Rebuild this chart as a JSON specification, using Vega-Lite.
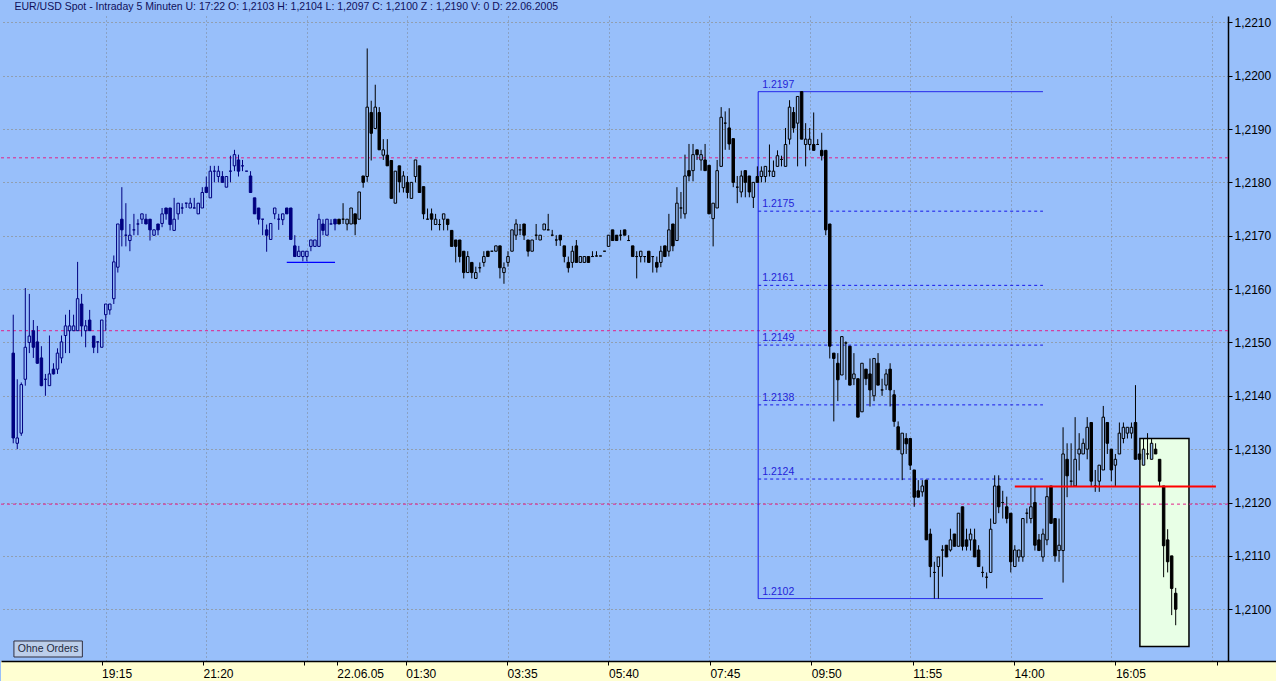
{
"$schema": "https://vega.github.io/schema/vega-lite/v6.json",
"background": "#98BFFA",
"padding": {"top": 2, "left": 0, "right": 0, "bottom": 0},
"spacing": 0,
"bounds": "flush",
"title": {"text": "EUR/USD Spot - Intraday 5 Minuten  U: 17:22  O: 1,2103  H: 1,2104  L: 1,2097  C: 1,2100  Z : 1,2190  V: 0  D: 22.06.2005", "anchor": "start", "dx": 14, "fontSize": 10.5, "font": "Liberation Sans", "fontWeight": "normal", "color": "#10105A", "offset": 3.3},
"config": {"view": {"stroke": null}, "font": "Liberation Sans", "axis": {"labelFont": "Liberation Sans"}},
"resolve": {"scale": {"x": "independent"}},
"datasets": {
"candles": [
{"t":"2005-06-21T17:20","o":1.2148,"h":1.21552,"l":1.21311,"c":1.21321},
{"t":"2005-06-21T17:25","o":1.21311,"h":1.21431,"l":1.2130,"c":1.21321},
{"t":"2005-06-21T17:30","o":1.2133,"h":1.21425,"l":1.21325,"c":1.21421},
{"t":"2005-06-21T17:35","o":1.21431,"h":1.21602,"l":1.21419,"c":1.21491},
{"t":"2005-06-21T17:40","o":1.2150,"h":1.21591,"l":1.2148,"c":1.21512},
{"t":"2005-06-21T17:45","o":1.21522,"h":1.21542,"l":1.21471,"c":1.21491},
{"t":"2005-06-21T17:50","o":1.21501,"h":1.21531,"l":1.2146,"c":1.21461},
{"t":"2005-06-21T17:55","o":1.21471,"h":1.21493,"l":1.21418,"c":1.21419},
{"t":"2005-06-21T18:00","o":1.21431,"h":1.21441,"l":1.2140,"c":1.21431},
{"t":"2005-06-21T18:05","o":1.21419,"h":1.21513,"l":1.21419,"c":1.21441},
{"t":"2005-06-21T18:10","o":1.2145,"h":1.21461,"l":1.2144,"c":1.21441},
{"t":"2005-06-21T18:15","o":1.2145,"h":1.21489,"l":1.21441,"c":1.2148},
{"t":"2005-06-21T18:20","o":1.21471,"h":1.21513,"l":1.21461,"c":1.21501},
{"t":"2005-06-21T18:25","o":1.21513,"h":1.21552,"l":1.2148,"c":1.21531},
{"t":"2005-06-21T18:30","o":1.21522,"h":1.21561,"l":1.2148,"c":1.21531},
{"t":"2005-06-21T18:35","o":1.21522,"h":1.21552,"l":1.21522,"c":1.21531},
{"t":"2005-06-21T18:40","o":1.21522,"h":1.21651,"l":1.21522,"c":1.21582},
{"t":"2005-06-21T18:45","o":1.21572,"h":1.21591,"l":1.21511,"c":1.21531},
{"t":"2005-06-21T18:50","o":1.21522,"h":1.21542,"l":1.21491,"c":1.21531},
{"t":"2005-06-21T18:55","o":1.21542,"h":1.21561,"l":1.21522,"c":1.21522},
{"t":"2005-06-21T19:00","o":1.21512,"h":1.21512,"l":1.2148,"c":1.21491},
{"t":"2005-06-21T19:05","o":1.21501,"h":1.21502,"l":1.2148,"c":1.21501},
{"t":"2005-06-21T19:10","o":1.21491,"h":1.21542,"l":1.21491,"c":1.21542},
{"t":"2005-06-21T19:15","o":1.21552,"h":1.21572,"l":1.21522,"c":1.21572},
{"t":"2005-06-21T19:20","o":1.21561,"h":1.21572,"l":1.21552,"c":1.21572},
{"t":"2005-06-21T19:25","o":1.21582,"h":1.21663,"l":1.21572,"c":1.21651},
{"t":"2005-06-21T19:30","o":1.21641,"h":1.21722,"l":1.21631,"c":1.21722},
{"t":"2005-06-21T19:35","o":1.21731,"h":1.21791,"l":1.2168,"c":1.21711},
{"t":"2005-06-21T19:40","o":1.21701,"h":1.21761,"l":1.2168,"c":1.21701},
{"t":"2005-06-21T19:45","o":1.21691,"h":1.21722,"l":1.21671,"c":1.21701},
{"t":"2005-06-21T19:50","o":1.21711,"h":1.21741,"l":1.21701,"c":1.21711},
{"t":"2005-06-21T19:55","o":1.21722,"h":1.21731,"l":1.21701,"c":1.21722},
{"t":"2005-06-21T20:00","o":1.21731,"h":1.21741,"l":1.21722,"c":1.21741},
{"t":"2005-06-21T20:05","o":1.21731,"h":1.21741,"l":1.21722,"c":1.21722},
{"t":"2005-06-21T20:10","o":1.21731,"h":1.21731,"l":1.21691,"c":1.21711},
{"t":"2005-06-21T20:15","o":1.21701,"h":1.21712,"l":1.2170,"c":1.21711},
{"t":"2005-06-21T20:20","o":1.21722,"h":1.21722,"l":1.21701,"c":1.21711},
{"t":"2005-06-21T20:25","o":1.21723,"h":1.21752,"l":1.21716,"c":1.21741},
{"t":"2005-06-21T20:30","o":1.21752,"h":1.21752,"l":1.2173,"c":1.21741},
{"t":"2005-06-21T20:35","o":1.21752,"h":1.21752,"l":1.2171,"c":1.21721},
{"t":"2005-06-21T20:40","o":1.2171,"h":1.21771,"l":1.2171,"c":1.21731},
{"t":"2005-06-21T20:45","o":1.21741,"h":1.21761,"l":1.2173,"c":1.21761},
{"t":"2005-06-21T20:50","o":1.21752,"h":1.21761,"l":1.21741,"c":1.21752},
{"t":"2005-06-21T20:55","o":1.21761,"h":1.21761,"l":1.21752,"c":1.21761},
{"t":"2005-06-21T21:00","o":1.21752,"h":1.21771,"l":1.21752,"c":1.21761},
{"t":"2005-06-21T21:05","o":1.21752,"h":1.21771,"l":1.21752,"c":1.21752},
{"t":"2005-06-21T21:10","o":1.21741,"h":1.21761,"l":1.21741,"c":1.21761},
{"t":"2005-06-21T21:15","o":1.21752,"h":1.21791,"l":1.21752,"c":1.21781},
{"t":"2005-06-21T21:20","o":1.21791,"h":1.21811,"l":1.21781,"c":1.21781},
{"t":"2005-06-21T21:25","o":1.21771,"h":1.21831,"l":1.21771,"c":1.21821},
{"t":"2005-06-21T21:30","o":1.21821,"h":1.21831,"l":1.2180,"c":1.21821},
{"t":"2005-06-21T21:35","o":1.21811,"h":1.21831,"l":1.2180,"c":1.21821},
{"t":"2005-06-21T21:40","o":1.21811,"h":1.21821,"l":1.2180,"c":1.2180},
{"t":"2005-06-21T21:45","o":1.21791,"h":1.21811,"l":1.21791,"c":1.21811},
{"t":"2005-06-21T21:50","o":1.21821,"h":1.2185,"l":1.2180,"c":1.21821},
{"t":"2005-06-21T21:55","o":1.21831,"h":1.21861,"l":1.21821,"c":1.21852},
{"t":"2005-06-21T22:00","o":1.21842,"h":1.21852,"l":1.21811,"c":1.21821},
{"t":"2005-06-21T22:05","o":1.21831,"h":1.21842,"l":1.21821,"c":1.21831},
{"t":"2005-06-21T22:10","o":1.21821,"h":1.21821,"l":1.21821,"c":1.21821},
{"t":"2005-06-21T22:15","o":1.21812,"h":1.21821,"l":1.21781,"c":1.21781},
{"t":"2005-06-21T22:20","o":1.21771,"h":1.21771,"l":1.21741,"c":1.21741},
{"t":"2005-06-21T22:25","o":1.21752,"h":1.21752,"l":1.21721,"c":1.21731},
{"t":"2005-06-21T22:30","o":1.21731,"h":1.21731,"l":1.21701,"c":1.21731},
{"t":"2005-06-21T22:35","o":1.21711,"h":1.21721,"l":1.2167,"c":1.21701},
{"t":"2005-06-21T22:40","o":1.21693,"h":1.21723,"l":1.21693,"c":1.21723},
{"t":"2005-06-21T22:45","o":1.21741,"h":1.21752,"l":1.21731,"c":1.21752},
{"t":"2005-06-21T22:50","o":1.21731,"h":1.21741,"l":1.21711,"c":1.21731},
{"t":"2005-06-21T22:55","o":1.2173,"h":1.21741,"l":1.2172,"c":1.21741},
{"t":"2005-06-21T23:00","o":1.21752,"h":1.21752,"l":1.21741,"c":1.21741},
{"t":"2005-06-21T23:05","o":1.21752,"h":1.21752,"l":1.21693,"c":1.21693},
{"t":"2005-06-21T23:10","o":1.21681,"h":1.21701,"l":1.21661,"c":1.21661},
{"t":"2005-06-21T23:15","o":1.21661,"h":1.21681,"l":1.21661,"c":1.21671},
{"t":"2005-06-21T23:20","o":1.21661,"h":1.21671,"l":1.21652,"c":1.21671},
{"t":"2005-06-21T23:25","o":1.21661,"h":1.21671,"l":1.21652,"c":1.21671},
{"t":"2005-06-21T23:30","o":1.2168,"h":1.21692,"l":1.21671,"c":1.21692},
{"t":"2005-06-21T23:35","o":1.2168,"h":1.21692,"l":1.2168,"c":1.21692},
{"t":"2005-06-21T23:40","o":1.2168,"h":1.21741,"l":1.2168,"c":1.21731},
{"t":"2005-06-21T23:45","o":1.21722,"h":1.21731,"l":1.21701,"c":1.2171},
{"t":"2005-06-21T23:50","o":1.21701,"h":1.21731,"l":1.21701,"c":1.21731},
{"t":"2005-06-21T23:55","o":1.21722,"h":1.21731,"l":1.21722,"c":1.21722},
{"t":"2005-06-22T00:00","o":1.21731,"h":1.21731,"l":1.2171,"c":1.21722},
{"t":"2005-06-22T00:05","o":1.21731,"h":1.21731,"l":1.21722,"c":1.21722},
{"t":"2005-06-22T00:10","o":1.21731,"h":1.21761,"l":1.21722,"c":1.21731},
{"t":"2005-06-22T00:15","o":1.21722,"h":1.21731,"l":1.2171,"c":1.21731},
{"t":"2005-06-22T00:20","o":1.21722,"h":1.21752,"l":1.21722,"c":1.21752},
{"t":"2005-06-22T00:25","o":1.21741,"h":1.21741,"l":1.21701,"c":1.21722},
{"t":"2005-06-22T00:30","o":1.21731,"h":1.21782,"l":1.21731,"c":1.21782},
{"t":"2005-06-22T00:35","o":1.21812,"h":1.21812,"l":1.2179,"c":1.2180},
{"t":"2005-06-22T00:40","o":1.21811,"h":1.22051,"l":1.21801,"c":1.21941},
{"t":"2005-06-22T00:45","o":1.21931,"h":1.21953,"l":1.21841,"c":1.21892},
{"t":"2005-06-22T00:50","o":1.21901,"h":1.21983,"l":1.21901,"c":1.21941},
{"t":"2005-06-22T00:55","o":1.21931,"h":1.21941,"l":1.21861,"c":1.21861},
{"t":"2005-06-22T01:00","o":1.21851,"h":1.21881,"l":1.21842,"c":1.21861},
{"t":"2005-06-22T01:05","o":1.21851,"h":1.21881,"l":1.21831,"c":1.21831},
{"t":"2005-06-22T01:10","o":1.21841,"h":1.21841,"l":1.2177,"c":1.2177},
{"t":"2005-06-22T01:15","o":1.21761,"h":1.21821,"l":1.21761,"c":1.21821},
{"t":"2005-06-22T01:20","o":1.21831,"h":1.21831,"l":1.21781,"c":1.21801},
{"t":"2005-06-22T01:25","o":1.2179,"h":1.21821,"l":1.21781,"c":1.21812},
{"t":"2005-06-22T01:30","o":1.2180,"h":1.21812,"l":1.2177,"c":1.21781},
{"t":"2005-06-22T01:35","o":1.2177,"h":1.2180,"l":1.2177,"c":1.2180},
{"t":"2005-06-22T01:40","o":1.21811,"h":1.21842,"l":1.2180,"c":1.21842},
{"t":"2005-06-22T01:45","o":1.21831,"h":1.21831,"l":1.21781,"c":1.21781},
{"t":"2005-06-22T01:50","o":1.21792,"h":1.21792,"l":1.21731,"c":1.21741},
{"t":"2005-06-22T01:55","o":1.21731,"h":1.21751,"l":1.21731,"c":1.21731},
{"t":"2005-06-22T02:00","o":1.21741,"h":1.21751,"l":1.2171,"c":1.21731},
{"t":"2005-06-22T02:05","o":1.21721,"h":1.21741,"l":1.21721,"c":1.21731},
{"t":"2005-06-22T02:10","o":1.21721,"h":1.21731,"l":1.2171,"c":1.21721},
{"t":"2005-06-22T02:15","o":1.21731,"h":1.21741,"l":1.2171,"c":1.21741},
{"t":"2005-06-22T02:20","o":1.21731,"h":1.21731,"l":1.2171,"c":1.21721},
{"t":"2005-06-22T02:25","o":1.2171,"h":1.2171,"l":1.2168,"c":1.2168},
{"t":"2005-06-22T02:30","o":1.21692,"h":1.21692,"l":1.2165,"c":1.2168},
{"t":"2005-06-22T02:35","o":1.21692,"h":1.21692,"l":1.2165,"c":1.21661},
{"t":"2005-06-22T02:40","o":1.21671,"h":1.21671,"l":1.2162,"c":1.21631},
{"t":"2005-06-22T02:45","o":1.21631,"h":1.21671,"l":1.21631,"c":1.21661},
{"t":"2005-06-22T02:50","o":1.2165,"h":1.2165,"l":1.2162,"c":1.21631},
{"t":"2005-06-22T02:55","o":1.2162,"h":1.21642,"l":1.2162,"c":1.21631},
{"t":"2005-06-22T03:00","o":1.2164,"h":1.2165,"l":1.21631,"c":1.2164},
{"t":"2005-06-22T03:05","o":1.2165,"h":1.21671,"l":1.21642,"c":1.21661},
{"t":"2005-06-22T03:10","o":1.21671,"h":1.21671,"l":1.21661,"c":1.21661},
{"t":"2005-06-22T03:15","o":1.21671,"h":1.21671,"l":1.21671,"c":1.21671},
{"t":"2005-06-22T03:20","o":1.21671,"h":1.21681,"l":1.21671,"c":1.21681},
{"t":"2005-06-22T03:25","o":1.21681,"h":1.21681,"l":1.2162,"c":1.2164},
{"t":"2005-06-22T03:30","o":1.21631,"h":1.2165,"l":1.2161,"c":1.2164},
{"t":"2005-06-22T03:35","o":1.2165,"h":1.21671,"l":1.21642,"c":1.21661},
{"t":"2005-06-22T03:40","o":1.21671,"h":1.21711,"l":1.21671,"c":1.21711},
{"t":"2005-06-22T03:45","o":1.21701,"h":1.21731,"l":1.21692,"c":1.21722},
{"t":"2005-06-22T03:50","o":1.21711,"h":1.21722,"l":1.21701,"c":1.21711},
{"t":"2005-06-22T03:55","o":1.21722,"h":1.21722,"l":1.21692,"c":1.21701},
{"t":"2005-06-22T04:00","o":1.21692,"h":1.21692,"l":1.21661,"c":1.21671},
{"t":"2005-06-22T04:05","o":1.21671,"h":1.21692,"l":1.21671,"c":1.21692},
{"t":"2005-06-22T04:10","o":1.21701,"h":1.21722,"l":1.21692,"c":1.21701},
{"t":"2005-06-22T04:15","o":1.21692,"h":1.21701,"l":1.21692,"c":1.21701},
{"t":"2005-06-22T04:20","o":1.21711,"h":1.21722,"l":1.21711,"c":1.21722},
{"t":"2005-06-22T04:25","o":1.21711,"h":1.21741,"l":1.21711,"c":1.21711},
{"t":"2005-06-22T04:30","o":1.21701,"h":1.21711,"l":1.21701,"c":1.21701},
{"t":"2005-06-22T04:35","o":1.21692,"h":1.21701,"l":1.21681,"c":1.21692},
{"t":"2005-06-22T04:40","o":1.21701,"h":1.21701,"l":1.21681,"c":1.21692},
{"t":"2005-06-22T04:45","o":1.21681,"h":1.21681,"l":1.2165,"c":1.21661},
{"t":"2005-06-22T04:50","o":1.2165,"h":1.21661,"l":1.21631,"c":1.2164},
{"t":"2005-06-22T04:55","o":1.2165,"h":1.21681,"l":1.2164,"c":1.21671},
{"t":"2005-06-22T05:00","o":1.21681,"h":1.21692,"l":1.2165,"c":1.2165},
{"t":"2005-06-22T05:05","o":1.2165,"h":1.21661,"l":1.2165,"c":1.21661},
{"t":"2005-06-22T05:10","o":1.2165,"h":1.21661,"l":1.2165,"c":1.21661},
{"t":"2005-06-22T05:15","o":1.21661,"h":1.21661,"l":1.2165,"c":1.2165},
{"t":"2005-06-22T05:20","o":1.21661,"h":1.21671,"l":1.21661,"c":1.21661},
{"t":"2005-06-22T05:25","o":1.21662,"h":1.21671,"l":1.21661,"c":1.21662},
{"t":"2005-06-22T05:30","o":1.21662,"h":1.21662,"l":1.21662,"c":1.21662},
{"t":"2005-06-22T05:35","o":1.21671,"h":1.21671,"l":1.21671,"c":1.21671},
{"t":"2005-06-22T05:40","o":1.2168,"h":1.21701,"l":1.2168,"c":1.21701},
{"t":"2005-06-22T05:45","o":1.21711,"h":1.21711,"l":1.21691,"c":1.21691},
{"t":"2005-06-22T05:50","o":1.21701,"h":1.21701,"l":1.21691,"c":1.21691},
{"t":"2005-06-22T05:55","o":1.21701,"h":1.21711,"l":1.21691,"c":1.21701},
{"t":"2005-06-22T06:00","o":1.21711,"h":1.21711,"l":1.21701,"c":1.21701},
{"t":"2005-06-22T06:05","o":1.21691,"h":1.21701,"l":1.21691,"c":1.21691},
{"t":"2005-06-22T06:10","o":1.21681,"h":1.21681,"l":1.21661,"c":1.21661},
{"t":"2005-06-22T06:15","o":1.21661,"h":1.21671,"l":1.2162,"c":1.21661},
{"t":"2005-06-22T06:20","o":1.21661,"h":1.21671,"l":1.2165,"c":1.21671},
{"t":"2005-06-22T06:25","o":1.21661,"h":1.21661,"l":1.2165,"c":1.21661},
{"t":"2005-06-22T06:30","o":1.21671,"h":1.21671,"l":1.2165,"c":1.2165},
{"t":"2005-06-22T06:35","o":1.21661,"h":1.21661,"l":1.21631,"c":1.21661},
{"t":"2005-06-22T06:40","o":1.2165,"h":1.21661,"l":1.21631,"c":1.21641},
{"t":"2005-06-22T06:45","o":1.2165,"h":1.21681,"l":1.21641,"c":1.21671},
{"t":"2005-06-22T06:50","o":1.21681,"h":1.21681,"l":1.21661,"c":1.21661},
{"t":"2005-06-22T06:55","o":1.21671,"h":1.21741,"l":1.21661,"c":1.21711},
{"t":"2005-06-22T07:00","o":1.21722,"h":1.21722,"l":1.21671,"c":1.21681},
{"t":"2005-06-22T07:05","o":1.21691,"h":1.21791,"l":1.21691,"c":1.21761},
{"t":"2005-06-22T07:10","o":1.21752,"h":1.21782,"l":1.21732,"c":1.21752},
{"t":"2005-06-22T07:15","o":1.21741,"h":1.21852,"l":1.21732,"c":1.21812},
{"t":"2005-06-22T07:20","o":1.21822,"h":1.21872,"l":1.21802,"c":1.21812},
{"t":"2005-06-22T07:25","o":1.21822,"h":1.21872,"l":1.21802,"c":1.21852},
{"t":"2005-06-22T07:30","o":1.21861,"h":1.21861,"l":1.21842,"c":1.21852},
{"t":"2005-06-22T07:35","o":1.21842,"h":1.21861,"l":1.21822,"c":1.21852},
{"t":"2005-06-22T07:40","o":1.21842,"h":1.21872,"l":1.21822,"c":1.21822},
{"t":"2005-06-22T07:45","o":1.21832,"h":1.21832,"l":1.21741,"c":1.21741},
{"t":"2005-06-22T07:50","o":1.21732,"h":1.21761,"l":1.2168,"c":1.21761},
{"t":"2005-06-22T07:55","o":1.21752,"h":1.21842,"l":1.21752,"c":1.21822},
{"t":"2005-06-22T08:00","o":1.2183,"h":1.21941,"l":1.2183,"c":1.21922},
{"t":"2005-06-22T08:05","o":1.21911,"h":1.21933,"l":1.21861,"c":1.21911},
{"t":"2005-06-22T08:10","o":1.21902,"h":1.21939,"l":1.21861,"c":1.21872},
{"t":"2005-06-22T08:15","o":1.21882,"h":1.21882,"l":1.21791,"c":1.2180},
{"t":"2005-06-22T08:20","o":1.21791,"h":1.21812,"l":1.21761,"c":1.21791},
{"t":"2005-06-22T08:25","o":1.21782,"h":1.21822,"l":1.21772,"c":1.21812},
{"t":"2005-06-22T08:30","o":1.21822,"h":1.21822,"l":1.21772,"c":1.2180},
{"t":"2005-06-22T08:35","o":1.21812,"h":1.21812,"l":1.21772,"c":1.21782},
{"t":"2005-06-22T08:40","o":1.21772,"h":1.2180,"l":1.21752,"c":1.2180},
{"t":"2005-06-22T08:45","o":1.21811,"h":1.2183,"l":1.2180,"c":1.2180},
{"t":"2005-06-22T08:50","o":1.21811,"h":1.2183,"l":1.2180,"c":1.21821},
{"t":"2005-06-22T08:55","o":1.21811,"h":1.2183,"l":1.2180,"c":1.2183},
{"t":"2005-06-22T09:00","o":1.21821,"h":1.21871,"l":1.21811,"c":1.21821},
{"t":"2005-06-22T09:05","o":1.21811,"h":1.21841,"l":1.21811,"c":1.21821},
{"t":"2005-06-22T09:10","o":1.2183,"h":1.2186,"l":1.2183,"c":1.2185},
{"t":"2005-06-22T09:15","o":1.21843,"h":1.2185,"l":1.2183,"c":1.21843},
{"t":"2005-06-22T09:20","o":1.2183,"h":1.21902,"l":1.2183,"c":1.21871},
{"t":"2005-06-22T09:25","o":1.21881,"h":1.21954,"l":1.21871,"c":1.21941},
{"t":"2005-06-22T09:30","o":1.21931,"h":1.21941,"l":1.21893,"c":1.21902},
{"t":"2005-06-22T09:35","o":1.21911,"h":1.21961,"l":1.2183,"c":1.21961},
{"t":"2005-06-22T09:40","o":1.2197,"h":1.2197,"l":1.21881,"c":1.21881},
{"t":"2005-06-22T09:45","o":1.21871,"h":1.21911,"l":1.2183,"c":1.21881},
{"t":"2005-06-22T09:50","o":1.21871,"h":1.21902,"l":1.2186,"c":1.21881},
{"t":"2005-06-22T09:55","o":1.21871,"h":1.21931,"l":1.2186,"c":1.2186},
{"t":"2005-06-22T10:00","o":1.21871,"h":1.21881,"l":1.21871,"c":1.21871},
{"t":"2005-06-22T10:05","o":1.2186,"h":1.21893,"l":1.21841,"c":1.2185},
{"t":"2005-06-22T10:10","o":1.2186,"h":1.2186,"l":1.21701,"c":1.21711},
{"t":"2005-06-22T10:15","o":1.21722,"h":1.21722,"l":1.2147,"c":1.21493},
{"t":"2005-06-22T10:20","o":1.2148,"h":1.2148,"l":1.21352,"c":1.2147},
{"t":"2005-06-22T10:25","o":1.21461,"h":1.2148,"l":1.2139,"c":1.2143},
{"t":"2005-06-22T10:30","o":1.21439,"h":1.21511,"l":1.21439,"c":1.21511},
{"t":"2005-06-22T10:35","o":1.21499,"h":1.21502,"l":1.2143,"c":1.21499},
{"t":"2005-06-22T10:40","o":1.21493,"h":1.21493,"l":1.2142,"c":1.2142},
{"t":"2005-06-22T10:45","o":1.21432,"h":1.2148,"l":1.2142,"c":1.21441},
{"t":"2005-06-22T10:50","o":1.21432,"h":1.21432,"l":1.2136,"c":1.2136},
{"t":"2005-06-22T10:55","o":1.2137,"h":1.21461,"l":1.2137,"c":1.21461},
{"t":"2005-06-22T11:00","o":1.2145,"h":1.2145,"l":1.2142,"c":1.21432},
{"t":"2005-06-22T11:05","o":1.21441,"h":1.2147,"l":1.2138,"c":1.21411},
{"t":"2005-06-22T11:10","o":1.2140,"h":1.2147,"l":1.2139,"c":1.2147},
{"t":"2005-06-22T11:15","o":1.21461,"h":1.2148,"l":1.2142,"c":1.2142},
{"t":"2005-06-22T11:20","o":1.21411,"h":1.21432,"l":1.2140,"c":1.21411},
{"t":"2005-06-22T11:25","o":1.2142,"h":1.2145,"l":1.21411,"c":1.21441},
{"t":"2005-06-22T11:30","o":1.2145,"h":1.21461,"l":1.2138,"c":1.21411},
{"t":"2005-06-22T11:35","o":1.21402,"h":1.21411,"l":1.21342,"c":1.21352},
{"t":"2005-06-22T11:40","o":1.21342,"h":1.21352,"l":1.21299,"c":1.21299},
{"t":"2005-06-22T11:45","o":1.21291,"h":1.2133,"l":1.21242,"c":1.2133},
{"t":"2005-06-22T11:50","o":1.2132,"h":1.2133,"l":1.21291,"c":1.2131},
{"t":"2005-06-22T11:55","o":1.2132,"h":1.2132,"l":1.21261,"c":1.2127},
{"t":"2005-06-22T12:00","o":1.21261,"h":1.21261,"l":1.21192,"c":1.2121},
{"t":"2005-06-22T12:05","o":1.21222,"h":1.21242,"l":1.2121,"c":1.2121},
{"t":"2005-06-22T12:10","o":1.2122,"h":1.21242,"l":1.21211,"c":1.21231},
{"t":"2005-06-22T12:15","o":1.21242,"h":1.21242,"l":1.2113,"c":1.2113},
{"t":"2005-06-22T12:20","o":1.21141,"h":1.21151,"l":1.2106,"c":1.2108},
{"t":"2005-06-22T12:25","o":1.21069,"h":1.21089,"l":1.2102,"c":1.21069},
{"t":"2005-06-22T12:30","o":1.2108,"h":1.21098,"l":1.2102,"c":1.21098},
{"t":"2005-06-22T12:35","o":1.21111,"h":1.2112,"l":1.21061,"c":1.21111},
{"t":"2005-06-22T12:40","o":1.2112,"h":1.2112,"l":1.21098,"c":1.21098},
{"t":"2005-06-22T12:45","o":1.21111,"h":1.21151,"l":1.21108,"c":1.2113},
{"t":"2005-06-22T12:50","o":1.21141,"h":1.21141,"l":1.21118,"c":1.21118},
{"t":"2005-06-22T12:55","o":1.21118,"h":1.2118,"l":1.21118,"c":1.2118},
{"t":"2005-06-22T13:00","o":1.21192,"h":1.21192,"l":1.2111,"c":1.21118},
{"t":"2005-06-22T13:05","o":1.2113,"h":1.21151,"l":1.2111,"c":1.21118},
{"t":"2005-06-22T13:10","o":1.2113,"h":1.21151,"l":1.2111,"c":1.21141},
{"t":"2005-06-22T13:15","o":1.2113,"h":1.21151,"l":1.21098,"c":1.21098},
{"t":"2005-06-22T13:20","o":1.21111,"h":1.2112,"l":1.2108,"c":1.2108},
{"t":"2005-06-22T13:25","o":1.21069,"h":1.2108,"l":1.2106,"c":1.21069},
{"t":"2005-06-22T13:30","o":1.2106,"h":1.21069,"l":1.21039,"c":1.2106},
{"t":"2005-06-22T13:35","o":1.21069,"h":1.2117,"l":1.21069,"c":1.2115},
{"t":"2005-06-22T13:40","o":1.21161,"h":1.21251,"l":1.21161,"c":1.21231},
{"t":"2005-06-22T13:45","o":1.21231,"h":1.21251,"l":1.2118,"c":1.21192},
{"t":"2005-06-22T13:50","o":1.212,"h":1.21222,"l":1.2117,"c":1.212},
{"t":"2005-06-22T13:55","o":1.21192,"h":1.21211,"l":1.21161,"c":1.2117},
{"t":"2005-06-22T14:00","o":1.2118,"h":1.2118,"l":1.21069,"c":1.21089},
{"t":"2005-06-22T14:05","o":1.2108,"h":1.2112,"l":1.2108,"c":1.21111},
{"t":"2005-06-22T14:10","o":1.21098,"h":1.21111,"l":1.21089,"c":1.21111},
{"t":"2005-06-22T14:15","o":1.21098,"h":1.2117,"l":1.21089,"c":1.2117},
{"t":"2005-06-22T14:20","o":1.2118,"h":1.21189,"l":1.21161,"c":1.2118},
{"t":"2005-06-22T14:25","o":1.2117,"h":1.21231,"l":1.21161,"c":1.21192},
{"t":"2005-06-22T14:30","o":1.212,"h":1.21231,"l":1.2111,"c":1.2112},
{"t":"2005-06-22T14:35","o":1.2113,"h":1.21141,"l":1.2111,"c":1.2111},
{"t":"2005-06-22T14:40","o":1.21098,"h":1.21151,"l":1.21089,"c":1.21141},
{"t":"2005-06-22T14:45","o":1.2113,"h":1.21231,"l":1.2112,"c":1.21211},
{"t":"2005-06-22T14:50","o":1.21231,"h":1.21231,"l":1.21161,"c":1.21161},
{"t":"2005-06-22T14:55","o":1.2117,"h":1.2117,"l":1.21089,"c":1.211},
{"t":"2005-06-22T15:00","o":1.2111,"h":1.2117,"l":1.21089,"c":1.2112},
{"t":"2005-06-22T15:05","o":1.2111,"h":1.21341,"l":1.2105,"c":1.21291},
{"t":"2005-06-22T15:10","o":1.21281,"h":1.21311,"l":1.2121,"c":1.2125},
{"t":"2005-06-22T15:15","o":1.2124,"h":1.21311,"l":1.2123,"c":1.2124},
{"t":"2005-06-22T15:20","o":1.21231,"h":1.2136,"l":1.21231,"c":1.21281},
{"t":"2005-06-22T15:25","o":1.21291,"h":1.2133,"l":1.2126,"c":1.213},
{"t":"2005-06-22T15:30","o":1.21291,"h":1.2132,"l":1.21291,"c":1.21311},
{"t":"2005-06-22T15:35","o":1.213,"h":1.2136,"l":1.21281,"c":1.21341},
{"t":"2005-06-22T15:40","o":1.2135,"h":1.2135,"l":1.21231,"c":1.2124},
{"t":"2005-06-22T15:45","o":1.21231,"h":1.21261,"l":1.2122,"c":1.21231},
{"t":"2005-06-22T15:50","o":1.2124,"h":1.2127,"l":1.2122,"c":1.2127},
{"t":"2005-06-22T15:55","o":1.21261,"h":1.21381,"l":1.21261,"c":1.2136},
{"t":"2005-06-22T16:00","o":1.2135,"h":1.2135,"l":1.21291,"c":1.21311},
{"t":"2005-06-22T16:05","o":1.213,"h":1.213,"l":1.2124,"c":1.21261},
{"t":"2005-06-22T16:10","o":1.2127,"h":1.21291,"l":1.21231,"c":1.21281},
{"t":"2005-06-22T16:15","o":1.21291,"h":1.2135,"l":1.21291,"c":1.2133},
{"t":"2005-06-22T16:20","o":1.2132,"h":1.2135,"l":1.21311,"c":1.21341},
{"t":"2005-06-22T16:25","o":1.2133,"h":1.21341,"l":1.2132,"c":1.21341},
{"t":"2005-06-22T16:30","o":1.2133,"h":1.2135,"l":1.2132,"c":1.21341},
{"t":"2005-06-22T16:35","o":1.2135,"h":1.2142,"l":1.21281,"c":1.21281},
{"t":"2005-06-22T16:40","o":1.21291,"h":1.21291,"l":1.21281,"c":1.21281},
{"t":"2005-06-22T16:45","o":1.2127,"h":1.2132,"l":1.2127,"c":1.213},
{"t":"2005-06-22T16:50","o":1.21291,"h":1.2133,"l":1.21281,"c":1.21291},
{"t":"2005-06-22T16:55","o":1.21281,"h":1.2132,"l":1.21281,"c":1.21311},
{"t":"2005-06-22T17:00","o":1.213,"h":1.21311,"l":1.21291,"c":1.21291},
{"t":"2005-06-22T17:05","o":1.21281,"h":1.21281,"l":1.21231,"c":1.2124},
{"t":"2005-06-22T17:10","o":1.21231,"h":1.21231,"l":1.2106,"c":1.21119},
{"t":"2005-06-22T17:15","o":1.2113,"h":1.2115,"l":1.21069,"c":1.21089},
{"t":"2005-06-22T17:20","o":1.211,"h":1.211,"l":1.20989,"c":1.21039},
{"t":"2005-06-22T17:25","o":1.2103,"h":1.2104,"l":1.2097,"c":1.2100}
],
"pink": [{"p":1.21846},{"p":1.21522},{"p":1.21197}],
"fib": [
{"lv":1.2197,"lab":"1.2197","kind":"solid","t1":"2005-06-22T08:46","t2":"2005-06-22T14:40"},
{"lv":1.21746,"lab":"1.2175","kind":"dash","t1":"2005-06-22T08:46","t2":"2005-06-22T14:40"},
{"lv":1.21607,"lab":"1.2161","kind":"dash","t1":"2005-06-22T08:46","t2":"2005-06-22T14:40"},
{"lv":1.21495,"lab":"1.2149","kind":"dash","t1":"2005-06-22T08:46","t2":"2005-06-22T14:40"},
{"lv":1.21383,"lab":"1.2138","kind":"dash","t1":"2005-06-22T08:46","t2":"2005-06-22T14:40"},
{"lv":1.21244,"lab":"1.2124","kind":"dash","t1":"2005-06-22T08:46","t2":"2005-06-22T14:40"},
{"lv":1.2102,"lab":"1.2102","kind":"solid","t1":"2005-06-22T08:46","t2":"2005-06-22T14:40"}
],
"fibv": [{"t":"2005-06-22T08:46","top":1.2197,"bot":1.2102}],
"support": [{"t1":"2005-06-21T23:00","t2":"2005-06-22T00:00","p":1.2165}],
"redline": [{"t1":"2005-06-22T14:05","t2":"2005-06-22T18:15","p":1.2123}],
"box": [{"t1":"2005-06-22T16:40:30","t2":"2005-06-22T17:41:30","p1":1.2132,"p2":1.2093}]
},
"vconcat": [
{
"width": 1227,
"height": 645,
"layer": [
{
"data": {"name": "box"},
"mark": {"type": "rect", "fill": "#E8FFE6", "stroke": "#000000", "strokeWidth": 1.5},
"encoding": {
"x": {"field": "t1", "type": "temporal", "title": null,
"scale": {"domain": [{"year":2005,"month":6,"date":21,"hours":17,"minutes":11}, {"year":2005,"month":6,"date":22,"hours":18,"minutes":23,"seconds":48}]},
"axis": {"title": null, "orient": "bottom", "labels": false, "ticks": false, "domain": false, "grid": true, "gridColor": "#7A8290", "gridDash": [1,3], "gridWidth": 1,
"values": [{"year":2005,"month":6,"date":21,"hours":19,"minutes":15},{"year":2005,"month":6,"date":21,"hours":21,"minutes":20},{"year":2005,"month":6,"date":21,"hours":23,"minutes":25},{"year":2005,"month":6,"date":22,"hours":1,"minutes":30},{"year":2005,"month":6,"date":22,"hours":3,"minutes":35},{"year":2005,"month":6,"date":22,"hours":5,"minutes":40},{"year":2005,"month":6,"date":22,"hours":7,"minutes":45},{"year":2005,"month":6,"date":22,"hours":9,"minutes":50},{"year":2005,"month":6,"date":22,"hours":11,"minutes":55},{"year":2005,"month":6,"date":22,"hours":14,"minutes":0},{"year":2005,"month":6,"date":22,"hours":16,"minutes":5},{"year":2005,"month":6,"date":22,"hours":18,"minutes":10}]}},
"x2": {"field": "t2"},
"y": {"field": "p1", "type": "quantitative", "title": null,
"scale": {"domain": [1.20903, 1.221118], "nice": false, "zero": false},
"axis": {"title": null, "orient": "right", "values": [1.21,1.211,1.212,1.213,1.214,1.215,1.216,1.217,1.218,1.219,1.22,1.221],
"labelExpr": "replace(format(datum.value, '.4f'), '.', ',')", "labelFontSize": 12, "labelColor": "#000000", "labelPadding": 2,
"tickColor": "#000000", "tickSize": 4, "domainColor": "#000000", "domainWidth": 1.5,
"grid": true, "gridColor": "#8A7E66", "gridDash": [1,3], "gridWidth": 1}},
"y2": {"field": "p2"}
}
},
{
"data": {"name": "pink"},
"mark": {"type": "rule", "color": "#E2208A", "strokeWidth": 1, "strokeDash": [3,3]},
"encoding": {"y": {"field": "p", "type": "quantitative", "title": null}}
},
{
"data": {"name": "fib"},
"mark": {"type": "rule", "color": "#1818E8", "strokeWidth": 1},
"encoding": {
"x": {"field": "t1", "type": "temporal", "title": null},
"x2": {"field": "t2"},
"y": {"field": "lv", "type": "quantitative", "title": null},
"strokeDash": {"condition": {"test": "datum.kind == 'dash'", "value": [3,3]}, "value": [1,0]}
}
},
{
"data": {"name": "fibv"},
"mark": {"type": "rule", "color": "#1818E8", "strokeWidth": 1},
"encoding": {
"x": {"field": "t", "type": "temporal", "title": null},
"y": {"field": "top", "type": "quantitative", "title": null},
"y2": {"field": "bot"}
}
},
{
"data": {"name": "fib"},
"mark": {"type": "text", "align": "left", "baseline": "bottom", "dx": 4, "dy": -2, "fontSize": 10.5, "color": "#2424D8"},
"encoding": {
"x": {"field": "t1", "type": "temporal", "title": null},
"y": {"field": "lv", "type": "quantitative", "title": null},
"text": {"field": "lab"}
}
},
{
"data": {"name": "support"},
"mark": {"type": "rule", "color": "#0000FF", "strokeWidth": 1.2},
"encoding": {
"x": {"field": "t1", "type": "temporal", "title": null},
"x2": {"field": "t2"},
"y": {"field": "p", "type": "quantitative", "title": null}
}
},
{
"data": {"values": [{}]},
"mark": {"type": "rect", "fill": "#BCCEEA", "stroke": "#303040", "strokeWidth": 1},
"encoding": {
"x": {"datum": {"year":2005,"month":6,"date":21,"hours":17,"minutes":20,"seconds":52}, "type": "temporal"},
"x2": {"datum": {"year":2005,"month":6,"date":21,"hours":18,"minutes":45,"seconds":56}},
"y": {"datum": 1.209405, "type": "quantitative"},
"y2": {"datum": 1.209105}
}
},
{
"data": {"values": [{}]},
"mark": {"type": "text", "text": "Ohne Orders", "fontSize": 10.5, "color": "#1E2A40", "align": "center", "baseline": "middle"},
"encoding": {
"x": {"datum": {"year":2005,"month":6,"date":21,"hours":18,"minutes":3,"seconds":24}, "type": "temporal"},
"y": {"datum": 1.209255, "type": "quantitative"}
}
},
{
"data": {"name": "candles"},
"mark": {"type": "rule", "strokeWidth": 1},
"encoding": {
"x": {"field": "t", "type": "temporal", "title": null},
"y": {"field": "l", "type": "quantitative", "title": null},
"y2": {"field": "h"},
"color": {"condition": {"test": "time(datum.t) >= datetime(2005, 5, 22, 0, 5)", "value": "#000000"}, "value": "#000080"}
}
},
{
"data": {"name": "candles"},
"mark": {"type": "bar", "size": 2.5, "strokeWidth": 1},
"encoding": {
"x": {"field": "t", "type": "temporal", "title": null},
"y": {"field": "o", "type": "quantitative", "title": null},
"y2": {"field": "c"},
"stroke": {"condition": {"test": "time(datum.t) >= datetime(2005, 5, 22, 0, 5)", "value": "#000000"}, "value": "#000080"},
"fill": {"condition": [{"test": "datum.c < datum.o && time(datum.t) >= datetime(2005, 5, 22, 0, 5)", "value": "#000000"}, {"test": "datum.c < datum.o", "value": "#000080"}], "value": "#98BFFA"}
}
},
{
"data": {"name": "redline"},
"mark": {"type": "rule", "color": "#FF0000", "strokeWidth": 2},
"encoding": {
"x": {"field": "t1", "type": "temporal", "title": null},
"x2": {"field": "t2"},
"y": {"field": "p", "type": "quantitative", "title": null}
}
}
]
},
{
"width": 1276,
"height": 20,
"view": {"fill": "#FFFFD2", "stroke": null},
"data": {"name": "candles"},
"mark": {"type": "point", "opacity": 0},
"encoding": {
"x": {"field": "t", "type": "temporal", "title": null,
"scale": {"domain": [{"year":2005,"month":6,"date":21,"hours":17,"minutes":11}, {"year":2005,"month":6,"date":22,"hours":19,"minutes":24,"seconds":13}]},
"axis": {"title": null, "orient": "bottom", "offset": -20, "grid": false, "labelAlign": "left", "labelPadding": 3, "labelFontSize": 12, "labelColor": "#000000", "labelOverlap": false, "labelFlush": false,
"tickColor": "#000000", "tickSize": 4, "domainColor": "#000000", "domainWidth": 1.5,
"labelExpr": "hours(datum.value) == 0 ? '22.06.05' : ((hours(datum.value) == 23 || hours(datum.value) == 18) ? '' : timeFormat(datum.value, '%H:%M'))",
"values": [{"year":2005,"month":6,"date":21,"hours":19,"minutes":15},{"year":2005,"month":6,"date":21,"hours":21,"minutes":20},{"year":2005,"month":6,"date":21,"hours":23,"minutes":25},{"year":2005,"month":6,"date":22,"hours":0,"minutes":5},{"year":2005,"month":6,"date":22,"hours":1,"minutes":30},{"year":2005,"month":6,"date":22,"hours":3,"minutes":35},{"year":2005,"month":6,"date":22,"hours":5,"minutes":40},{"year":2005,"month":6,"date":22,"hours":7,"minutes":45},{"year":2005,"month":6,"date":22,"hours":9,"minutes":50},{"year":2005,"month":6,"date":22,"hours":11,"minutes":55},{"year":2005,"month":6,"date":22,"hours":14,"minutes":0},{"year":2005,"month":6,"date":22,"hours":16,"minutes":5},{"year":2005,"month":6,"date":22,"hours":18,"minutes":10}]}}
}
}
]
}
